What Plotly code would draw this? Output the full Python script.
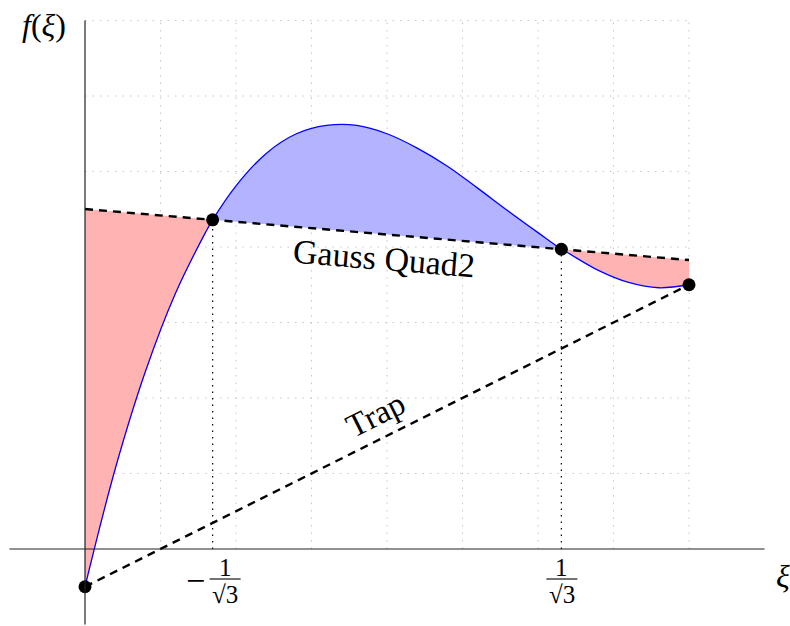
import numpy as np
import plotly.graph_objects as go

# Sampled integrand f(xi) on [-1, 1]
xi = [-1.0, -0.9, -0.8, -0.7, -0.6, -0.5, -0.4, -0.3, -0.2, -0.1,
      0.0, 0.1, 0.2, 0.3, 0.4, 0.5, 0.6, 0.7, 0.8, 0.9, 1.0]
f_vals = [-0.50, 1.06, 2.35, 3.39, 4.20, 4.81, 5.24, 5.50, 5.61, 5.61,
          5.50, 5.31, 5.07, 4.78, 4.48, 4.19, 3.92, 3.69, 3.53, 3.46, 3.50]

# Two-point Gauss rule: abscissae +-1/sqrt(3) and the function there
gauss_xi = [-1 / np.sqrt(3), 1 / np.sqrt(3)]
gauss_f = [4.36, 3.97]

grid_x = [-0.75, -0.5, -0.25, 0.0, 0.25, 0.5, 0.75, 1.0]
grid_y = [1, 2, 3, 4, 5, 6, 7]

RED_FILL = "#FFB3B3"
BLUE_FILL = "#B3B3FF"
FONT = "'Liberation Serif', 'Times New Roman', serif"

# merged curve samples (include the Gauss points)
cx = np.array(xi + gauss_xi)
cy = np.array(f_vals + gauss_f)
order = np.argsort(cx)
cx, cy = cx[order], cy[order]

# straight line through the two Gauss points
slope = (gauss_f[1] - gauss_f[0]) / (gauss_xi[1] - gauss_xi[0])


def gauss_line(x):
    return gauss_f[0] + slope * (np.asarray(x) - gauss_xi[0])


def trap_line(x):
    return f_vals[0] + (f_vals[-1] - f_vals[0]) * (np.asarray(x) - xi[0]) / (xi[-1] - xi[0])


fig = go.Figure()

# shaded differences between the curve and the Gauss line
segments = [(xi[0], gauss_xi[0], RED_FILL),
            (gauss_xi[0], gauss_xi[1], BLUE_FILL),
            (gauss_xi[1], xi[-1], RED_FILL)]
for a, b, col in segments:
    m = (cx >= a - 1e-9) & (cx <= b + 1e-9)
    lx = [a, b]
    fig.add_trace(go.Scatter(x=lx, y=gauss_line(lx), mode="lines",
                             line=dict(width=0), hoverinfo="skip", showlegend=False))
    fig.add_trace(go.Scatter(x=cx[m], y=cy[m], mode="lines", fill="tonexty",
                             fillcolor=col, line=dict(width=0, shape="spline"),
                             hoverinfo="skip", showlegend=False))

# the integrand
fig.add_trace(go.Scatter(x=cx, y=cy, mode="lines",
                         line=dict(color="#0000FF", width=1.3, shape="spline"),
                         showlegend=False))

# Gauss line across [-1, 1]
ex = [xi[0], xi[-1]]
fig.add_trace(go.Scatter(x=ex, y=gauss_line(ex), mode="lines",
                         line=dict(color="black", width=2.4, dash="8px,6px"),
                         showlegend=False))
# trapezoid chord
fig.add_trace(go.Scatter(x=ex, y=trap_line(ex), mode="lines",
                         line=dict(color="black", width=2.4, dash="8px,6px"),
                         showlegend=False))

# sample points
fig.add_trace(go.Scatter(x=[xi[0]] + gauss_xi + [xi[-1]],
                         y=[f_vals[0]] + gauss_f + [f_vals[-1]],
                         mode="markers", marker=dict(color="black", size=13),
                         showlegend=False))

shapes = []
for gx in grid_x:
    shapes.append(dict(type="line", xref="x", yref="y", x0=gx, x1=gx, y0=0, y1=grid_y[-1],
                       line=dict(color="#C8C8C8", width=1, dash="1.5px,6px"), layer="below"))
for gy in grid_y:
    shapes.append(dict(type="line", xref="x", yref="y", x0=xi[0], x1=xi[-1], y0=gy, y1=gy,
                       line=dict(color="#C8C8C8", width=1, dash="1.5px,6px"), layer="below"))
# dotted drops from the Gauss points
for gx, gy in zip(gauss_xi, gauss_f):
    shapes.append(dict(type="line", xref="x", yref="y", x0=gx, x1=gx, y0=0, y1=gy,
                       line=dict(color="black", width=1.2, dash="1.5px,5px"), layer="below"))

# axes
X_MIN, X_MAX = -1 - 85 / 302, -1 + 705 / 302
Y_MIN, Y_MAX = -77 / 75.5, 549 / 75.5
shapes.append(dict(type="line", xref="x", yref="y", x0=-1.25, x1=1.25, y0=0, y1=0,
                   line=dict(color="#222222", width=1.2)))
shapes.append(dict(type="line", xref="x", yref="y", x0=-1, x1=-1, y0=-1, y1=7,
                   line=dict(color="#222222", width=1.2)))

# fraction bars of the tick labels
for gx, dx in [(gauss_xi[0], 12.5), (gauss_xi[1], 0.5)]:
    shapes.append(dict(type="line", xref="x", yref="y", xsizemode="pixel", ysizemode="pixel",
                       xanchor=gx, yanchor=0, x0=dx - 15.5, x1=dx + 15.5, y0=-30, y1=-30,
                       line=dict(color="black", width=1.1)))

annotations = []
tick_font = dict(family=FONT, size=25, color="black")
for gx, dx in [(gauss_xi[0], 12.5), (gauss_xi[1], 0.5)]:
    annotations.append(dict(x=gx, y=0, xref="x", yref="y", text="1", showarrow=False,
                            xanchor="center", yanchor="middle",
                            xshift=dx, yshift=-18, font=tick_font))
    annotations.append(dict(x=gx, y=0, xref="x", yref="y", text="√3", showarrow=False,
                            xanchor="center", yanchor="middle",
                            xshift=dx, yshift=-45, font=tick_font))
annotations.append(dict(x=gauss_xi[0], y=0, xref="x", yref="y", text="−", showarrow=False,
                        xanchor="center", yanchor="middle",
                        xshift=-17.6, yshift=-31, font=dict(family=FONT, size=34, color="black")))

# line labels
annotations.append(dict(x=0, y=float(gauss_line(0)), xref="x", yref="y", text="Gauss Quad2",
                        showarrow=False, textangle=4.7, xshift=-3, yshift=-24,
                        font=dict(family=FONT, size=34, color="black")))
annotations.append(dict(x=0, y=float(trap_line(0)), xref="x", yref="y", text="Trap",
                        showarrow=False, textangle=-26.57, xshift=-12, yshift=21,
                        font=dict(family=FONT, size=33, color="black")))

# axis labels
annotations.append(dict(x=44, y=626 - 25, xref="paper", yref="paper", text="<i>f</i>(<i>ξ</i>)",
                        xanchor="center", yanchor="middle",
                        showarrow=False, font=dict(family=FONT, size=32, color="black")))
annotations.append(dict(x=783, y=626 - 576, xref="paper", yref="paper", text="<i>ξ</i>",
                        xanchor="center", yanchor="middle",
                        showarrow=False, font=dict(family=FONT, size=32, color="black")))

# paper coordinates above were given in pixels; convert to fractions
for ann in annotations:
    if ann.get("xref") == "paper":
        ann["x"] = ann["x"] / 790
        ann["y"] = ann["y"] / 626

fig.update_layout(
    width=790, height=626,
    margin=dict(l=0, r=0, t=0, b=0),
    paper_bgcolor="white", plot_bgcolor="white",
    xaxis=dict(range=[X_MIN, X_MAX], visible=False, fixedrange=True),
    yaxis=dict(range=[Y_MIN, Y_MAX], visible=False, fixedrange=True),
    shapes=shapes, annotations=annotations,
    showlegend=False,
)

fig.write_html("out.html")
